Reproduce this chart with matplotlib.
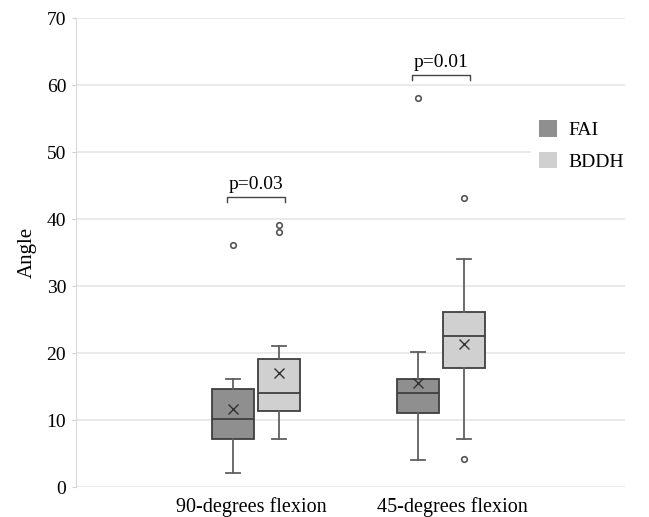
import matplotlib.pyplot as plt

# data (box stats per group)
categories = ['90-degrees flexion', '45-degrees flexion']
series = ['FAI', 'BDDH']
colors = ['#8f8f8f', '#d0d0d0']

# [group][series]
q1 = [[7.1, 11.4], [11.1, 17.8]]
med = [[10.2, 14.1], [14.1, 22.6]]
q3 = [[14.6, 19.1], [16.1, 26.1]]
wlo = [[2.1, 7.1], [4.1, 7.2]]
whi = [[16.1, 21.0], [20.1, 34.1]]
means = [[11.7, 17.0], [15.6, 21.4]]
fliers = [[[36.1], [39.1, 38.1]], [[58.0], [43.1, 4.2]]]

p_labels = ['p=0.03', 'p=0.01']
p_heights = [43.3, 61.5]

plt.rcParams['font.family'] = ['Liberation Serif', 'DejaVu Serif']

fig = plt.figure(figsize=(6.49, 5.17), dpi=100)
ax = fig.add_axes([0.117, 0.058, 0.846, 0.907])

offset = 0.126
width = 0.227
edge = '#3f3f3f'
wcol = '#606060'

for g in range(len(categories)):
    for s in range(len(series)):
        pos = g + (offset if s else -offset)
        st = [dict(med=med[g][s], q1=q1[g][s], q3=q3[g][s], whislo=wlo[g][s],
                   whishi=whi[g][s], mean=means[g][s], fliers=fliers[g][s])]
        ax.bxp(st, positions=[pos], widths=width, capwidths=0.075, patch_artist=True,
               showmeans=True, manage_ticks=False,
               boxprops=dict(facecolor=colors[s], edgecolor=edge, linewidth=1.3),
               medianprops=dict(color=edge, linewidth=1.3),
               whiskerprops=dict(color=wcol, linewidth=1.3),
               capprops=dict(color=wcol, linewidth=1.3),
               meanprops=dict(marker='x', markeredgecolor='#333333', markersize=7,
                              markeredgewidth=1.0),
               flierprops=dict(marker='o', markersize=4, markerfacecolor='white',
                               markeredgecolor='#555555', markeredgewidth=1.2))
    # significance bracket
    x0, x1 = g - offset - 0.03, g + offset + 0.03
    h = p_heights[g]
    ax.plot([x0, x0, x1, x1], [h - 0.8, h, h, h - 0.8], color='#444444', lw=1.0)
    ax.text(g, h + 0.6, p_labels[g], ha='center', va='bottom', fontsize=14)

ax.set_xlim(-0.973, 1.995)
ax.set_ylim(0, 70)
ax.set_yticks(range(0, 71, 10))
# category labels sit slightly apart from the box centres in the original
ax.set_xticks([-0.027, 1.06])
ax.set_xticklabels(categories, fontsize=14.5)
ax.tick_params(axis='x', length=0, pad=7)
ax.tick_params(axis='y', labelsize=14, length=3, color='#d0d0d0', pad=4)
ax.set_ylabel('Angle', fontsize=15, labelpad=7)
ax.yaxis.grid(True, color='#e6e6e6', linewidth=1.2)
ax.set_axisbelow(True)
for sp in ['top', 'right', 'bottom']:
    ax.spines[sp].set_visible(False)
ax.spines['left'].set_color('#d9d9d9')

handles = [plt.Rectangle((0, 0), 1, 1, facecolor=c, edgecolor='none') for c in colors]
leg = ax.legend(handles, series, loc='upper left', bbox_to_anchor=(0.829, 0.799),
                frameon=True, fontsize=14, handlelength=0.93, handleheight=0.93,
                handletextpad=0.6, labelspacing=0.65, borderaxespad=0, borderpad=0.4)
leg.get_frame().set_edgecolor('none')
leg.get_frame().set_facecolor('white')
leg.get_frame().set_alpha(1)

fig.savefig('out.png', dpi=100)
